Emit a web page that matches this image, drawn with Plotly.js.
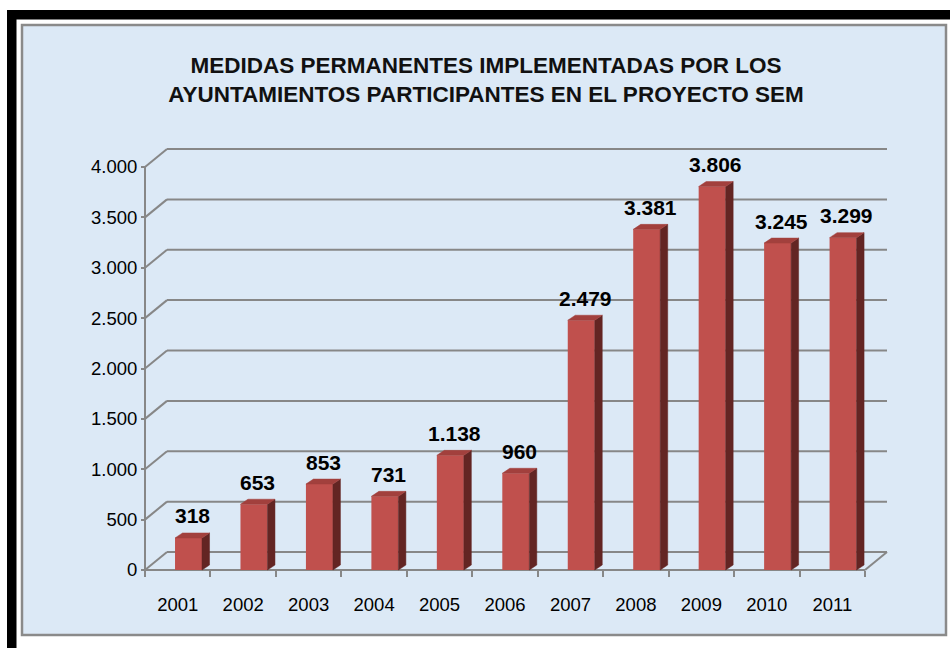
<!DOCTYPE html>
<html>
<head>
<meta charset="utf-8">
<script src="https://cdn.plot.ly/plotly-3.0.1.min.js"></script>
<style>
html,body{margin:0;padding:0;background:#fff;}
#chart{width:950px;height:648px;}
</style>
</head>
<body>
<div id="chart"></div>
<script>
// ---- data ----
const years = ['2001','2002','2003','2004','2005','2006','2007','2008','2009','2010','2011'];
const medidas = [318, 653, 853, 731, 1138, 960, 2479, 3381, 3806, 3245, 3299];
const yTicks = [0, 500, 1000, 1500, 2000, 2500, 3000, 3500, 4000];
const titleLines = ['MEDIDAS PERMANENTES IMPLEMENTADAS POR LOS', 'AYUNTAMIENTOS PARTICIPANTES EN EL PROYECTO SEM'];

// ---- geometry (style constants, pixels) ----
const W = 950, H = 648;
const axL = 145, axR = 865, axB = 570, axT = 167;   // front axes box
const yMax = 4000;
const nCat = years.length;
const pxPerCat = (axR - axL) / nCat;
const pxPerVal = (axB - axT) / yMax;
const wallDxPx = 22, wallDyPx = 18;   // depth of back wall
const barDxPx = 7.5, barDyPx = 5;     // depth of bars
const barWpx = 27, barShiftPx = 10.8; // front face width / shift of its centre from category centre

const wallDx = wallDxPx / pxPerCat, wallDy = wallDyPx / pxPerVal;
const barDx = barDxPx / pxPerCat, barDy = barDyPx / pxPerVal;
const barW = barWpx / pxPerCat, barOff = barShiftPx / pxPerCat;

const padX = 0.05, padY = 40;
const xRange = [-0.5 - padX, nCat - 0.5 + wallDx + padX];
const yRange = [-padY, yMax + wallDy + padY];
const fx = p => p / W, fy = p => 1 - p / H;
const xDomain = [fx(axL - padX * pxPerCat), fx(axR + (wallDx + padX) * pxPerCat)];
const yDomain = [fy(axB + padY * pxPerVal), fy(axT - (wallDy + padY) * pxPerVal)];

const grey = '#878787';
const fmt = n => n >= 1000 ? Math.floor(n / 1000) + '.' + String(n % 1000).padStart(3, '0') : String(n);

// ---- 3D faces of bars ----
const topX = [], topY = [], sideX = [], sideY = [];
medidas.forEach((v, i) => {
  const L = i + barOff - barW / 2, R = L + barW;
  topX.push(L, R, R + barDx, L + barDx, L, null);
  topY.push(v, v, v + barDy, v + barDy, v, null);
  sideX.push(R, R, R + barDx, R + barDx, R, null);
  sideY.push(0, v, v + barDy, barDy, 0, null);
});

const traces = [
  {type: 'bar', x: years, y: medidas, xaxis: 'x', yaxis: 'y',
   width: barW, offset: barOff - barW / 2,
   marker: {color: '#c0504d', line: {width: 0}}, hoverinfo: 'skip', showlegend: false},
  {type: 'scatter', mode: 'lines', x: sideX, y: sideY, xaxis: 'x4', yaxis: 'y',
   fill: 'toself', fillcolor: '#632523', line: {color: '#632523', width: 0.5},
   hoverinfo: 'skip', showlegend: false},
  {type: 'scatter', mode: 'lines', x: topX, y: topY, xaxis: 'x4', yaxis: 'y',
   fill: 'toself', fillcolor: '#a2403d', line: {color: '#a2403d', width: 0.5},
   hoverinfo: 'skip', showlegend: false}
];

// ---- shapes: frame, walls, gridlines ----
const shapes = [
  {type: 'rect', xref: 'paper', yref: 'paper', x0: fx(7), x1: 1, y0: fy(19.5), y1: fy(10), fillcolor: '#000', line: {width: 0}, layer: 'below'},
  {type: 'rect', xref: 'paper', yref: 'paper', x0: fx(7), x1: fx(16.5), y0: 0, y1: fy(10), fillcolor: '#000', line: {width: 0}, layer: 'below'},
  {type: 'rect', xref: 'paper', yref: 'paper', x0: fx(22), x1: fx(946), y0: fy(635), y1: fy(25), fillcolor: '#dce9f6', line: {color: '#8a8a8a', width: 2.5}, layer: 'below'}
];
const line = (x0, y0, x1, y1) => ({type: 'line', xref: 'x4', yref: 'y', x0, y0, x1, y1, line: {color: grey, width: 2}, layer: 'below'});
const x0c = -0.5, x1c = nCat - 0.5;
yTicks.forEach(v => {
  shapes.push(line(x0c, v, x0c + wallDx, v + wallDy));
  shapes.push(line(x0c + wallDx, v + wallDy, x1c + wallDx, v + wallDy));
});
shapes.push(line(x0c, 0, x0c, yMax));
shapes.push(line(x0c, 0, x1c, 0));
shapes.push(line(x1c, 0, x1c + wallDx, wallDy));

// ---- data labels ----
const annotations = medidas.map((v, i) => ({
  xref: 'x4', yref: 'y', x: i + barOff + barDx / 2, y: v, yshift: 22,
  text: fmt(v), showarrow: false, xanchor: 'center', yanchor: 'middle',
  font: {family: 'Liberation Sans, Arial, sans-serif', size: 21, color: '#000', weight: 'bold'}
}));

const tickFont = {family: 'Liberation Sans, Arial, sans-serif', size: 18.5, color: '#000'};

const layout = {
  width: W, height: H, autosize: false,
  margin: {l: 0, r: 0, t: 0, b: 0, pad: 0},
  paper_bgcolor: '#ffffff', plot_bgcolor: 'rgba(0,0,0,0)',
  separators: ',.',
  showlegend: false,
  title: {
    text: titleLines.join('<br>'),
    font: {family: 'Liberation Sans, Arial, sans-serif', size: 22.5, color: '#111', weight: 'bold'},
    x: fx(486), xanchor: 'center', xref: 'paper',
    y: fy(73), yanchor: 'middle', yref: 'container'
  },
  xaxis: {
    type: 'category', categoryorder: 'array', categoryarray: years,
    domain: xDomain, range: xRange, anchor: 'free', position: fy(axB),
    showline: false, showgrid: false, zeroline: false,
    ticks: 'outside', tickson: 'boundaries', ticklen: 6, tickwidth: 2, tickcolor: grey,
    tickfont: tickFont, ticklabelstandoff: 21, fixedrange: true
  },
  xaxis4: {
    type: 'linear', overlaying: 'x', anchor: 'y', domain: xDomain, range: xRange,
    visible: false, fixedrange: true
  },
  yaxis: {
    domain: yDomain, range: yRange, anchor: 'free', position: fx(axL),
    tickvals: yTicks, ticktext: yTicks.map(fmt),
    ticks: 'outside', ticklen: 4, tickwidth: 2, tickcolor: grey,
    showline: false, showgrid: false, zeroline: false,
    tickfont: tickFont, fixedrange: true
  },
  shapes: shapes,
  annotations: annotations
};

Plotly.newPlot('chart', traces, layout, {displayModeBar: false, staticPlot: true});
</script>
</body>
</html>
